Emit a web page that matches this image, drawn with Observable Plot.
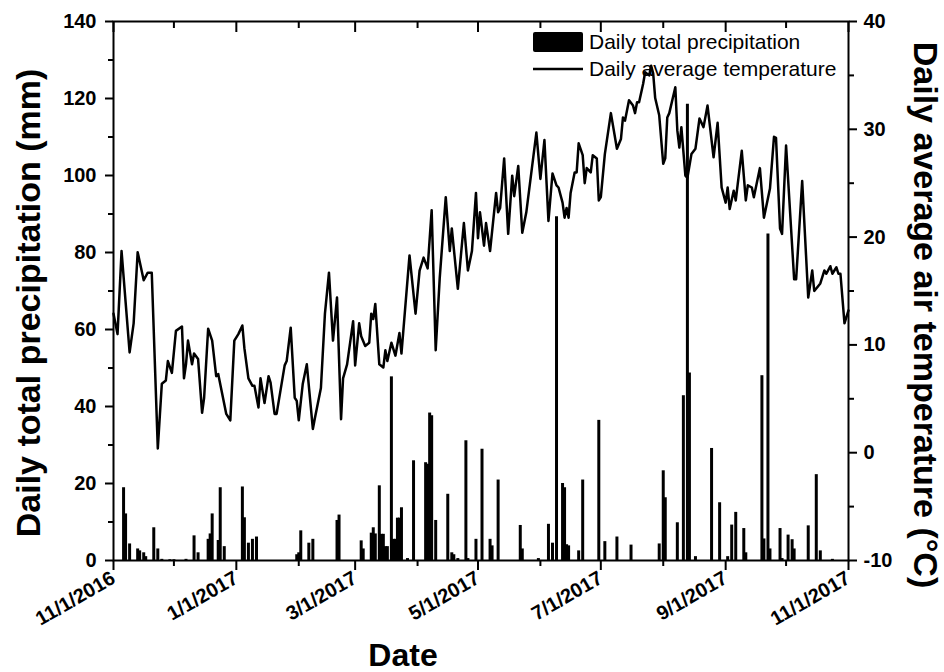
<!DOCTYPE html>
<html><head><meta charset="utf-8">
<script src="https://cdn.jsdelivr.net/npm/d3@7"></script>
<script src="https://cdn.jsdelivr.net/npm/@observablehq/plot@0.6"></script>
<style>
body{margin:0;background:#fff}
#chart{position:relative;width:944px;height:672px}
svg{font-family:"Liberation Sans",Arial,sans-serif}
</style>
</head><body><div id="chart"></div>
<script>
// ---- data ----
const startDate = "11/1/2016";
const endDate = "11/1/2017";
// [day since 11/1/2016, daily average temperature °C]
const temperature = [[0,12.9],[2,11.0],[4,18.7],[8,9.3],[10,12.0],[12,18.6],[15,16.0],[17,16.7],[19,16.7],[22,0.4],[24,6.4],[26,6.7],[27,8.5],[29,7.4],[31,11.3],[34,11.7],[35,6.9],[36,8.2],[37,10.4],[39,8.2],[40,9.2],[42,8.7],[44,3.7],[45,5.1],[47,11.5],[49,10.4],[51,7.1],[52,7.3],[56,3.6],[58,3.0],[60,10.4],[62,11.0],[64,11.8],[65,9.7],[67,6.9],[69,6.2],[70,6.2],[72,4.2],[73,6.9],[75,4.6],[77,7.1],[78,6.5],[80,3.6],[81,3.6],[85,8.1],[86,8.5],[88,11.6],[90,5.1],[91,4.8],[92,3.0],[94,6.4],[96,8.2],[99,2.2],[100,3.2],[103,6.0],[105,12.9],[107,16.7],[109,10.4],[111,14.4],[113,3.1],[114,6.9],[116,8.2],[119,12.2],[120,8.1],[122,12.0],[123,10.8],[125,9.9],[127,10.2],[128,12.9],[129,12.4],[130,13.8],[132,8.2],[134,7.9],[135,9.5],[136,8.5],[138,10.2],[140,9.0],[142,11.1],[143,9.2],[147,18.3],[150,12.9],[152,16.9],[154,18.1],[156,17.1],[158,22.5],[160,9.5],[162,16.2],[165,23.7],[167,18.7],[168,20.8],[171,15.2],[174,21.3],[176,16.9],[178,18.7],[180,24.1],[181,19.9],[182,22.3],[184,19.2],[185,21.3],[187,18.7],[190,24.1],[191,22.3],[192,22.7],[194,27.3],[196,20.3],[198,25.7],[199,23.8],[201,26.6],[203,20.4],[205,22.3],[210,29.7],[212,25.4],[214,29.0],[216,21.5],[218,25.9],[220,24.8],[221,24.6],[223,23.2],[224,21.8],[225,22.7],[226,21.8],[227,24.1],[229,26.0],[230,26.0],[231,28.7],[233,27.6],[234,25.0],[235,26.4],[237,26.0],[238,27.6],[240,27.3],[241,23.4],[242,23.7],[244,27.7],[247,31.5],[250,28.2],[252,29.1],[253,31.1],[254,30.8],[256,32.7],[258,32.2],[259,31.5],[260,32.5],[261,32.5],[263,34.2],[264,35.3],[266,35.0],[267,35.9],[268,35.2],[269,32.9],[271,31.3],[273,26.8],[274,27.3],[275,31.1],[276,31.5],[279,33.9],[280,29.9],[281,28.3],[282,30.2],[284,25.7],[285,25.5],[287,27.7],[289,28.2],[291,31.0],[293,30.2],[295,32.2],[298,27.4],[300,30.6],[302,24.6],[304,23.2],[305,24.6],[306,22.6],[308,24.3],[309,23.4],[312,28.0],[314,23.4],[315,24.8],[317,24.6],[318,23.7],[321,26.4],[323,21.8],[326,24.5],[328,29.3],[329,29.2],[331,20.8],[332,20.3],[334,28.5],[338,16.1],[339,16.1],[342,25.2],[345,14.4],[347,16.9],[348,15.0],[351,15.7],[353,16.9],[354,16.6],[356,17.3],[357,16.6],[359,17.2],[360,16.6],[361,16.6],[363,12.0],[365,13.2]];
// [day since 11/1/2016, daily total precipitation mm]
const precipitation = [[5,18.9],[6,12.1],[8,4.3],[12,3.0],[13,2.5],[15,2.0],[16,1.0],[20,8.5],[22,3.0],[24,0.3],[28,0.2],[30,0.2],[36,0.3],[40,6.4],[42,2.0],[47,5.5],[48,6.9],[49,12.1],[52,5.2],[53,18.9],[55,3.6],[64,19.1],[65,11.1],[67,4.5],[69,5.5],[71,6.1],[91,1.5],[92,2.0],[93,7.7],[97,4.5],[99,5.5],[111,10.4],[112,11.8],[123,5.1],[124,3.0],[128,7.1],[129,8.5],[130,6.9],[132,19.4],[133,6.8],[134,6.8],[135,3.6],[136,3.6],[138,47.7],[139,5.5],[140,5.5],[141,11.0],[142,11.0],[143,13.7],[146,0.5],[149,25.9],[155,25.4],[156,25.0],[157,38.3],[158,37.6],[160,10.4],[166,17.2],[168,2.0],[169,1.5],[171,0.5],[175,31.1],[176,0.5],[180,5.5],[183,28.9],[187,5.5],[188,3.8],[191,20.9],[202,9.1],[203,3.0],[211,0.5],[216,9.4],[218,4.5],[220,89.3],[223,20.0],[224,18.9],[225,4.1],[226,3.8],[231,2.5],[233,20.9],[241,36.4],[244,4.9],[250,6.1],[257,4.0],[271,4.3],[273,23.3],[274,16.3],[280,9.8],[283,42.8],[285,118.5],[286,48.7],[289,1.0],[297,29.1],[301,15.0],[305,1.0],[307,9.2],[309,12.5],[313,8.3],[314,2.0],[322,48.0],[323,5.6],[325,84.8],[326,3.0],[331,8.3],[332,0.5],[335,6.6],[337,5.4],[338,3.0],[345,9.0],[349,22.3],[351,2.5],[357,0.3]];
const xTickLabels = ["11/1/2016","1/1/2017","3/1/2017","5/1/2017","7/1/2017","9/1/2017","11/1/2017"];
const precipTicks = [0,20,40,60,80,100,120,140];
const tempTicks = [-10,0,10,20,30,40];
const legendLabels = ["Daily total precipitation","Daily average temperature"];
const titles = {x:"Date", left:"Daily total precipitation (mm)", right:"Daily average air temperature (\u00B0C)"};

// ---- build ----
const parse = d3.utcParse("%m/%d/%Y");
const t0 = parse(startDate), t1 = parse(endDate);
const dayToDate = d => d3.utcDay.offset(t0, d);
const fmt = d => `${d.getUTCMonth()+1}/${d.getUTCDate()}/${d.getUTCFullYear()}`;
const P_MAX = precipTicks[precipTicks.length-1];
const T_MIN = tempTicks[0], T_MAX = tempTicks[tempTicks.length-1];
const toY = t => (t - T_MIN) / (T_MAX - T_MIN) * P_MAX;
const fromY = v => v / P_MAX * (T_MAX - T_MIN) + T_MIN;

const tempData = temperature.map(([d, t]) => ({date: dayToDate(d), t}));
const precipData = precipitation.map(([d, p]) => ({date: dayToDate(d), p}));
const majorX = xTickLabels.map(parse);
const minorX = d3.utcMonth.range(t0, d3.utcDay.offset(t1, 1)).filter(d => !majorX.some(m => +m === +d));
const minorP = d3.range(10, P_MAX, 20);
const minorT = d3.range(T_MIN + 5, T_MAX, 10).map(toY);

const FONT = "Liberation Sans, Arial, sans-serif";
const blank = () => "";

const svg = Plot.plot({
  width: 944, height: 672,
  marginLeft: 113, marginRight: 96, marginTop: 21, marginBottom: 112,
  style: {fontFamily: FONT, background: "white", color: "black"},
  x: {type: "utc", domain: [t0, t1]},
  y: {domain: [0, P_MAX]},
  marks: [
    Plot.ruleX(precipData, {x: "date", y1: 0, y2: "p", stroke: "black", strokeWidth: 3}),
    Plot.line(tempData, {x: "date", y: d => toY(d.t), stroke: "black", strokeWidth: 2.5, strokeLinejoin: "round"}),
    Plot.frame({stroke: "black", strokeWidth: 2}),
    // left axis
    Plot.axisY(precipTicks, {anchor: "left", tickSize: 8, tickPadding: 9, strokeWidth: 2, fontSize: 20, fontWeight: "bold", label: null}),
    Plot.axisY(minorP, {anchor: "left", tickSize: 5, strokeWidth: 2, tickFormat: blank, label: null}),
    // right axis (temperature)
    Plot.axisY(tempTicks.map(toY), {anchor: "right", tickSize: 8, tickPadding: 7, strokeWidth: 2, fontSize: 20, fontWeight: "bold", label: null, tickFormat: v => String(Math.round(fromY(v)))}),
    Plot.axisY(minorT, {anchor: "right", tickSize: 5, strokeWidth: 2, tickFormat: blank, label: null}),
    // bottom axis
    Plot.axisX(majorX, {anchor: "bottom", tickSize: 10, tickPadding: 6, strokeWidth: 2, tickRotate: -30, fontSize: 20, fontWeight: "bold", label: null, tickFormat: fmt}),
    Plot.axisX(minorX, {anchor: "bottom", tickSize: 6, strokeWidth: 2, tickFormat: blank, label: null}),
    // top axis (inward ticks)
    Plot.axisX(majorX, {anchor: "top", tickSize: 10, dy: 10, strokeWidth: 2, tickFormat: blank, label: null}),
    Plot.axisX(minorX, {anchor: "top", tickSize: 6, dy: 6, strokeWidth: 2, tickFormat: blank, label: null})
  ]
});

const s = d3.select(svg);
// axis titles
s.append("text").attr("transform", "translate(40,303) rotate(-90)").attr("text-anchor", "middle")
  .attr("font-family", FONT).attr("font-size", 34).attr("font-weight", "bold").attr("fill", "black").text(titles.left);
s.append("text").attr("transform", "translate(914,315) rotate(90)").attr("text-anchor", "middle")
  .attr("font-family", FONT).attr("font-size", 34).attr("font-weight", "bold").attr("fill", "black").text(titles.right);
s.append("text").attr("x", 403).attr("y", 666).attr("text-anchor", "middle")
  .attr("font-family", FONT).attr("font-size", 32).attr("font-weight", "bold").attr("fill", "black").text(titles.x);
// legend
const lg = s.append("g");
lg.append("rect").attr("x", 533).attr("y", 32).attr("width", 50).attr("height", 20).attr("rx", 2).attr("fill", "black");
lg.append("line").attr("x1", 533).attr("x2", 583).attr("y1", 69).attr("y2", 69).attr("stroke", "black").attr("stroke-width", 2.5);
lg.append("text").attr("x", 589).attr("y", 49).attr("text-anchor", "start").attr("font-family", FONT).attr("font-size", 21).attr("fill", "black").text(legendLabels[0]);
lg.append("text").attr("x", 589).attr("y", 76).attr("text-anchor", "start").attr("font-family", FONT).attr("font-size", 21).attr("fill", "black").text(legendLabels[1]);

document.getElementById("chart").appendChild(svg);
</script>
</body></html>
